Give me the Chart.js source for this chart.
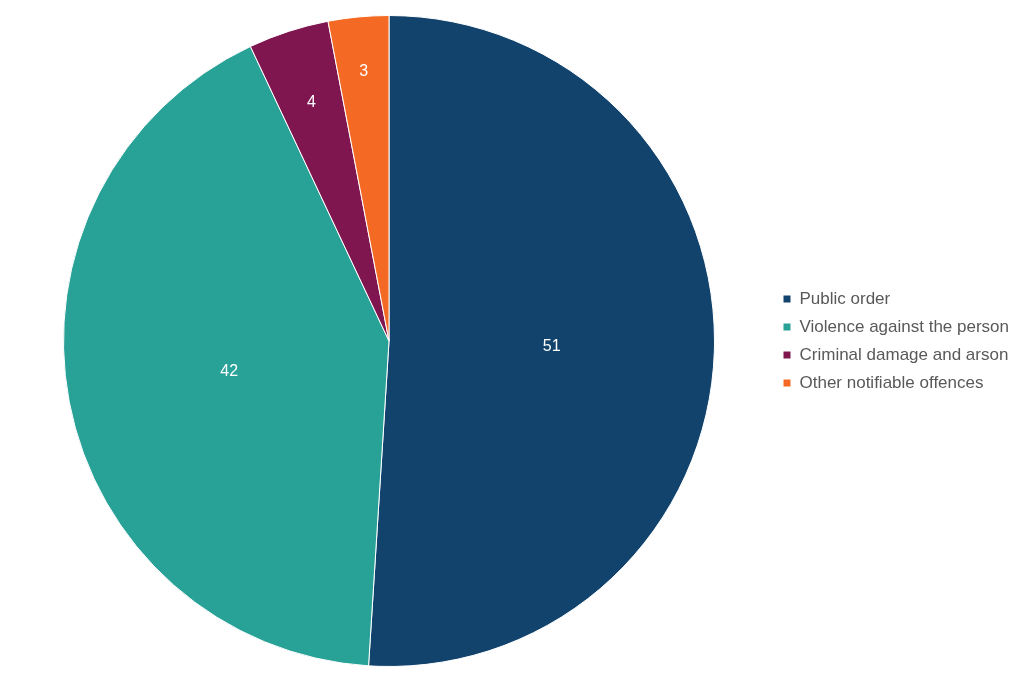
<!DOCTYPE html>
<html>
<head>
<meta charset="utf-8">
<script src="https://cdn.jsdelivr.net/npm/chart.js@4/dist/chart.umd.min.js"></script>
<style>
  html, body { margin: 0; padding: 0; background: #fff; }
  #wrap { width: 1024px; height: 683px; }
</style>
</head>
<body>
<div id="wrap"><canvas id="pieChart"></canvas></div>
<script>
const categories = ['Public order', 'Violence against the person', 'Criminal damage and arson', 'Other notifiable offences'];
const shares = [51, 42, 4, 3];
const sliceColours = ['#12436D', '#28A197', '#801650', '#F46A25'];
// how far out each value label sits, as a share of the radius
const labelRadius = [0.5, 0.5, 0.77, 0.83];

// Draw the value inside each slice
const sliceLabels = {
  id: 'sliceLabels',
  afterDatasetsDraw(chart) {
    const { ctx } = chart;
    const meta = chart.getDatasetMeta(0);
    ctx.save();
    ctx.fillStyle = '#ffffff';
    ctx.font = '16px "Liberation Sans", Arial, sans-serif';
    ctx.textAlign = 'center';
    ctx.textBaseline = 'middle';
    meta.data.forEach((arc, i) => {
      const mid = (arc.startAngle + arc.endAngle) / 2;
      const r = arc.outerRadius * labelRadius[i];
      ctx.fillText(String(shares[i]), arc.x + Math.cos(mid) * r, arc.y + Math.sin(mid) * r);
    });
    ctx.restore();
  }
};

// Fix legend width so the pie sits where the reference has it
const legendWidth = {
  id: 'legendWidth',
  beforeInit(chart) {
    const orig = chart.legend.fit;
    chart.legend.fit = function () {
      orig.call(this);
      this.width = 252;
    };
  }
};

new Chart(document.getElementById('pieChart'), {
  type: 'pie',
  data: {
    labels: categories,
    datasets: [{
      data: shares,
      backgroundColor: sliceColours,
      borderColor: '#ffffff',
      borderWidth: 1,
    }]
  },
  options: {
    responsive: true,
    maintainAspectRatio: false,
    animation: false,
    layout: { padding: { top: 15, bottom: 16, left: 6, right: 0 } },
    plugins: {
      tooltip: { enabled: false },
      legend: {
        position: 'right',
        align: 'center',
        labels: {
          boxWidth: 8,
          boxHeight: 8,
          padding: 11,
          color: '#595959',
          font: { size: 17, family: '"Liberation Sans", Arial, sans-serif' },
        }
      }
    }
  },
  plugins: [sliceLabels, legendWidth]
});
</script>
</body>
</html>
